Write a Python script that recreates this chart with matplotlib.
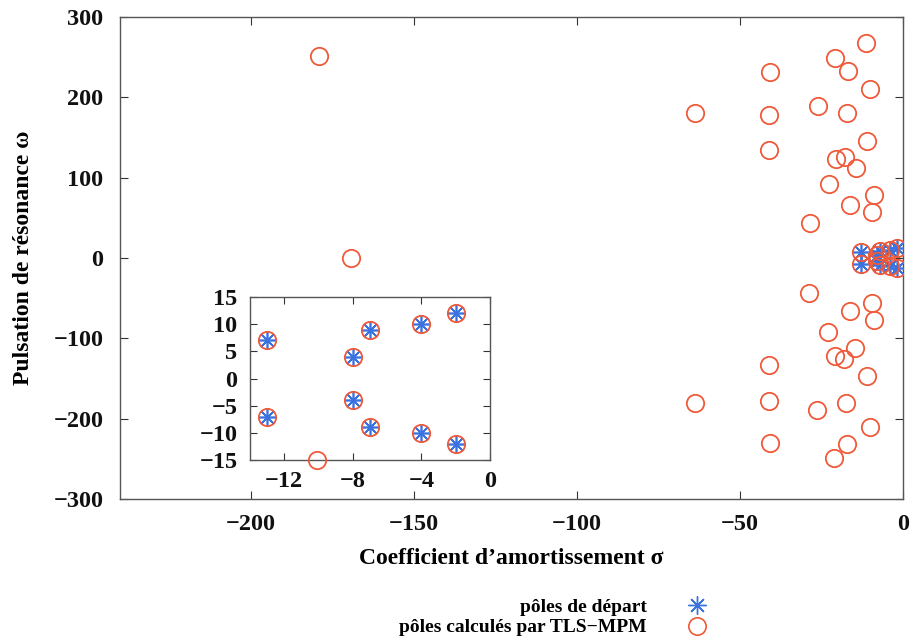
import matplotlib

matplotlib.use("Agg")
import matplotlib.pyplot as plt
from matplotlib.lines import Line2D

plt.rcParams["font.family"] = ["Liberation Serif", "DejaVu Serif"]
plt.rcParams["font.weight"] = "bold"
plt.rcParams["axes.labelweight"] = "bold"

# starting poles (sigma, omega)
start_sigma = [-13, -13, -8, -8, -7, -7, -4, -4, -2, -2]
start_omega = [7, -7, 4, -4, 9, -9, 10, -10, 12, -12]

# extra poles found by TLS-MPM
extra_sigma = [-11.4, -21.0, -16.8, -40.7, -10.0, -63.7, -41.0, -26.1, -17.2, -10.9,
               -41.2, -20.5, -17.8, -14.4, -22.7, -8.9, -16.2, -9.6, -28.5,
               -28.7, -9.6, -16.4, -8.9, -22.9, -14.7, -20.8, -18.0, -10.9, -41.2,
               -63.9, -41.2, -26.4, -17.4, -10.1, -40.9, -17.1, -21.1,
               -179.1, -169.1, -179.5]
extra_omega = [268, 249, 233, 231, 210, 181, 178, 189, 181, 146,
               134, 123, 126, 112, 92, 78, 66, 57, 44,
               -44, -56, -66, -77, -92, -112, -122, -126, -147, -133,
               -181, -178, -189, -181, -210, -230, -232, -249,
               252, 0, -251]

calc_sigma = start_sigma + extra_sigma
calc_omega = start_omega + extra_omega

RED = "#ee5a3a"
BLUE = "#3a72e0"
STAR = (8, 2, 0)

fig = plt.figure(figsize=(9.14, 6.39), dpi=100)
ax = fig.add_axes([0.1313, 0.2191, 0.8567, 0.7543])
ins = fig.add_axes([0.2735, 0.2801, 0.2626, 0.2551])
# main markers must sit over the inset (one circle lands on its border)
ax.set_zorder(2)
ins.set_zorder(1)
ax.patch.set_alpha(0)

for a in (ax, ins):
    a.plot(start_sigma, start_omega, ls="none", marker=STAR, ms=13, mew=1.2,
           color=BLUE, zorder=3)
    a.plot(calc_sigma, calc_omega, ls="none", marker="o", ms=12.5, mew=1.3,
           mfc="none", mec=RED, zorder=4)
    a.tick_params(direction="in", top=True, right=True, length=6, width=0.8,
                  labelsize=17.5, colors="#333333", labelcolor="#111111")
    for s in a.spines.values():
        s.set_color("#555555")
        s.set_linewidth(1.0)

ax.set_xlim(-240, 0)
ax.set_ylim(-300, 300)
ax.set_xticks([-200, -150, -100, -50, 0])
ax.set_yticks([-300, -200, -100, 0, 100, 200, 300])
ax.tick_params(axis="y", pad=12)
ax.tick_params(axis="x", pad=11)
ax.set_xlabel("Coefficient d’amortissement σ", fontsize=17, labelpad=9)
ax.set_ylabel("Pulsation de résonance ω", fontsize=17, labelpad=14)

ins.set_xlim(-14, 0)
ins.set_ylim(-15, 15)
ins.set_xticks([-12, -8, -4, 0])
ins.set_yticks([-15, -10, -5, 0, 5, 10, 15])
ins.tick_params(length=5)
ins.tick_params(axis="y", pad=9)
ins.tick_params(axis="x", pad=8)

for lab in ax.get_xticklabels() + ax.get_yticklabels() + ins.get_xticklabels() + ins.get_yticklabels():
    lab.set_fontweight("bold")

handles = [
    Line2D([], [], ls="none", marker=STAR, ms=13, mew=1.0, color=BLUE),
    Line2D([], [], ls="none", marker="o", ms=12.5, mew=1.2, mfc="none", mec=RED),
]
fig.legend(handles, ["pôles de départ", "pôles calculés par TLS−MPM"],
           markerfirst=False, frameon=False, loc="center right",
           bbox_to_anchor=(0.795, 0.034), labelspacing=0.15,
           handletextpad=1.6, borderpad=0, prop={"weight": "bold", "size": 14})

fig.savefig("out.png", dpi=100)
